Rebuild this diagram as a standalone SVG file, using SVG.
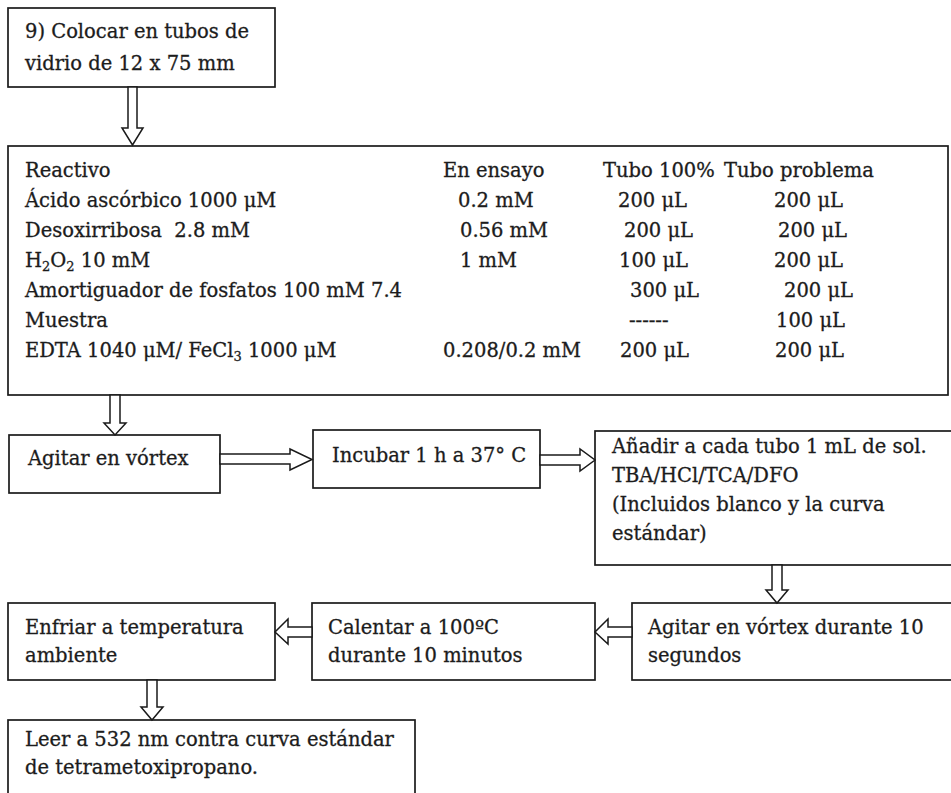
<svg xmlns="http://www.w3.org/2000/svg" width="951" height="793" viewBox="0 0 951 793">
<style>
.box{fill:#fff;stroke:#1a1a1a;stroke-width:1.7}
.arr{fill:#fff;stroke:#1a1a1a;stroke-width:1.5;stroke-linejoin:miter}
text{font-family:"DejaVu Serif","Liberation Serif",serif;font-size:19.5px;fill:#1c1c1c;stroke:#1c1c1c;stroke-width:0.3}
.sub{font-size:13px}
</style>
<rect width="951" height="793" fill="#fff"/>
<g id="n1">
<rect class="box" x="8" y="8" width="267" height="79"/>
<text x="25" y="38">9) Colocar en tubos de</text>
<text x="25" y="70">vidrio de 12 x 75 mm</text>
</g>
<g id="n2">
<rect class="box" x="8" y="146" width="940" height="249"/>
<text x="25" y="177">Reactivo</text>
<text x="443" y="177">En ensayo</text>
<text x="603" y="177">Tubo 100%</text>
<text x="724" y="177">Tubo problema</text>
<text x="25" y="207">Ácido ascórbico 1000 μM</text>
<text x="458" y="207">0.2 mM</text>
<text x="618" y="207">200 μL</text>
<text x="774" y="207">200 μL</text>
<text x="25" y="237" xml:space="preserve">Desoxirribosa  2.8 mM</text>
<text x="460" y="237">0.56 mM</text>
<text x="624" y="237">200 μL</text>
<text x="778" y="237">200 μL</text>
<text x="25" y="267">H<tspan class="sub" dy="4">2</tspan><tspan dy="-4">O</tspan><tspan class="sub" dy="4">2</tspan><tspan dy="-4"> 10 mM</tspan></text>
<text x="460" y="267">1 mM</text>
<text x="619" y="267">100 μL</text>
<text x="774" y="267">200 μL</text>
<text x="25" y="297">Amortiguador de fosfatos 100 mM 7.4</text>
<text x="630" y="297">300 μL</text>
<text x="784" y="297">200 μL</text>
<text x="25" y="327">Muestra</text>
<text x="629" y="327">------</text>
<text x="776" y="327">100 μL</text>
<text x="25" y="357">EDTA 1040 μM/ FeCl<tspan class="sub" dy="4">3</tspan><tspan dy="-4"> 1000 μM</tspan></text>
<text x="443" y="357">0.208/0.2 mM</text>
<text x="620" y="357">200 μL</text>
<text x="775" y="357">200 μL</text>
</g>
<g id="n3">
<rect class="box" x="9" y="435" width="211" height="58"/>
<text x="28" y="465">Agitar en vórtex</text>
</g>
<g id="n4">
<rect class="box" x="313" y="430" width="227" height="58"/>
<text x="332" y="462">Incubar 1 h a 37° C</text>
</g>
<g id="n5">
<rect class="box" x="595" y="431" width="362" height="134"/>
<text x="612" y="453">Añadir a cada tubo 1 mL de sol.</text>
<text x="612" y="482">TBA/HCl/TCA/DFO</text>
<text x="612" y="511">(Incluidos blanco y la curva</text>
<text x="612" y="540">estándar)</text>
</g>
<g id="n6">
<rect class="box" x="632" y="603" width="325" height="77"/>
<text x="648" y="634">Agitar en vórtex durante 10</text>
<text x="648" y="662">segundos</text>
</g>
<g id="n7">
<rect class="box" x="312" y="603" width="283" height="77"/>
<text x="328" y="634">Calentar a 100ºC</text>
<text x="328" y="662">durante 10 minutos</text>
</g>
<g id="n8">
<rect class="box" x="8" y="603" width="267" height="77"/>
<text x="25" y="634">Enfriar a temperatura</text>
<text x="25" y="662">ambiente</text>
</g>
<g id="n9">
<rect class="box" x="8" y="720" width="407" height="80"/>
<text x="25" y="746">Leer a 532 nm contra curva estándar</text>
<text x="25" y="774">de tetrametoxipropano.</text>
</g>
<g id="connectors">
<polygon class="arr" points="128,87 137,87 137,128 143,128 132.5,145 122,128 128,128"/>
<polygon class="arr" points="110,395 120,395 120,423 126,423 115,435 104,423 110,423"/>
<polygon class="arr" points="220,454 290,454 290,449 312,459.5 290,470 290,464 220,464"/>
<polygon class="arr" points="540,455 580,455 580,449 595,460 580,471 580,465 540,465"/>
<polygon class="arr" points="772,565 782,565 782,590 788,590 777,603 766,590 772,590"/>
<polygon class="arr" points="632,627 608,627 608,619 595,632 608,644 608,637 632,637"/>
<polygon class="arr" points="312,627 288,627 288,619 275,632 288,644 288,637 312,637"/>
<polygon class="arr" points="147,680 157,680 157,707 163,707 152,720 141,707 147,707"/>
</g>
</svg>
